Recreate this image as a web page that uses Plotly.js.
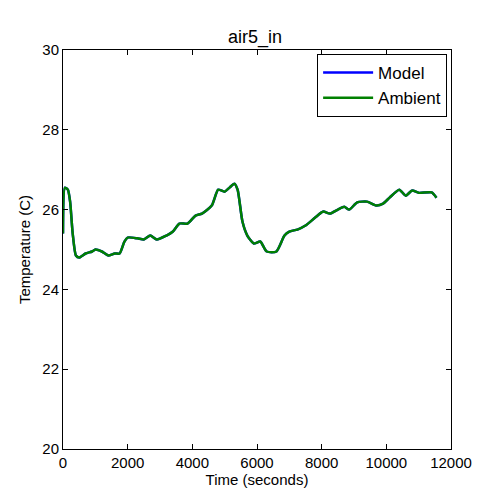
<!DOCTYPE html><html><head><script src="https://cdn.plot.ly/plotly-3.0.1.min.js"></script></head><body style="margin:0"><div id="c" style="width:500px;height:500px"></div><script>
const time=[0,60,150,220,300,400,500,700,900,1000,1200,1400,1600,1750,1900,2000,2300,2500,2700,2900,3200,3400,3600,3850,4100,4300,4600,4800,5000,5150,5300,5400,5550,5700,5900,6100,6300,6600,6850,7000,7250,7500,7800,8050,8250,8500,8700,8850,9100,9400,9700,9900,10100,10400,10600,10800,11000,11400,11550];
const ambient=[25.4,26.55,26.5,26.2,25.4,24.85,24.8,24.9,24.95,25.0,24.95,24.85,24.9,24.9,25.2,25.3,25.28,25.25,25.35,25.25,25.35,25.45,25.65,25.65,25.85,25.9,26.1,26.5,26.45,26.55,26.65,26.5,25.7,25.35,25.15,25.2,24.95,24.95,25.35,25.45,25.5,25.6,25.8,25.95,25.9,26.0,26.07,26.0,26.18,26.2,26.1,26.15,26.3,26.5,26.35,26.48,26.42,26.43,26.3];
const model=ambient.slice();
const tr=(y,n,c)=>({x:time,y:y,name:n,mode:'lines',line:{color:c,width:2.5,shape:'spline',smoothing:0.6}});
const ax={showline:true,mirror:'ticks',linecolor:'black',linewidth:1,ticks:'inside',ticklen:5,tickcolor:'black',showgrid:false,zeroline:false,tickfont:{size:15,color:'black'}};
Plotly.newPlot('c',[tr(model,'Model','#0000ff'),tr(ambient,'Ambient','#008000')],{
width:500,height:500,margin:{l:63,r:49,t:50,b:51},paper_bgcolor:'white',plot_bgcolor:'white',
font:{family:'Liberation Sans, Arial, sans-serif',color:'black'},
title:{text:'air5_in',font:{size:18},x:0.51,xanchor:'center',y:0.94},
xaxis:Object.assign({},ax,{range:[0,12000],dtick:2000,tickformat:'d',title:{text:'Time (seconds)',font:{size:15},standoff:4}}),
yaxis:Object.assign({},ax,{range:[20,30],dtick:2,title:{text:'Temperature (C)',font:{size:15},standoff:8}}),
legend:{x:0.99,y:0.99,xanchor:'right',yanchor:'top',bordercolor:'black',borderwidth:1,font:{size:17},bgcolor:'white',itemwidth:50},
},{displayModeBar:false});
</script></body></html>
